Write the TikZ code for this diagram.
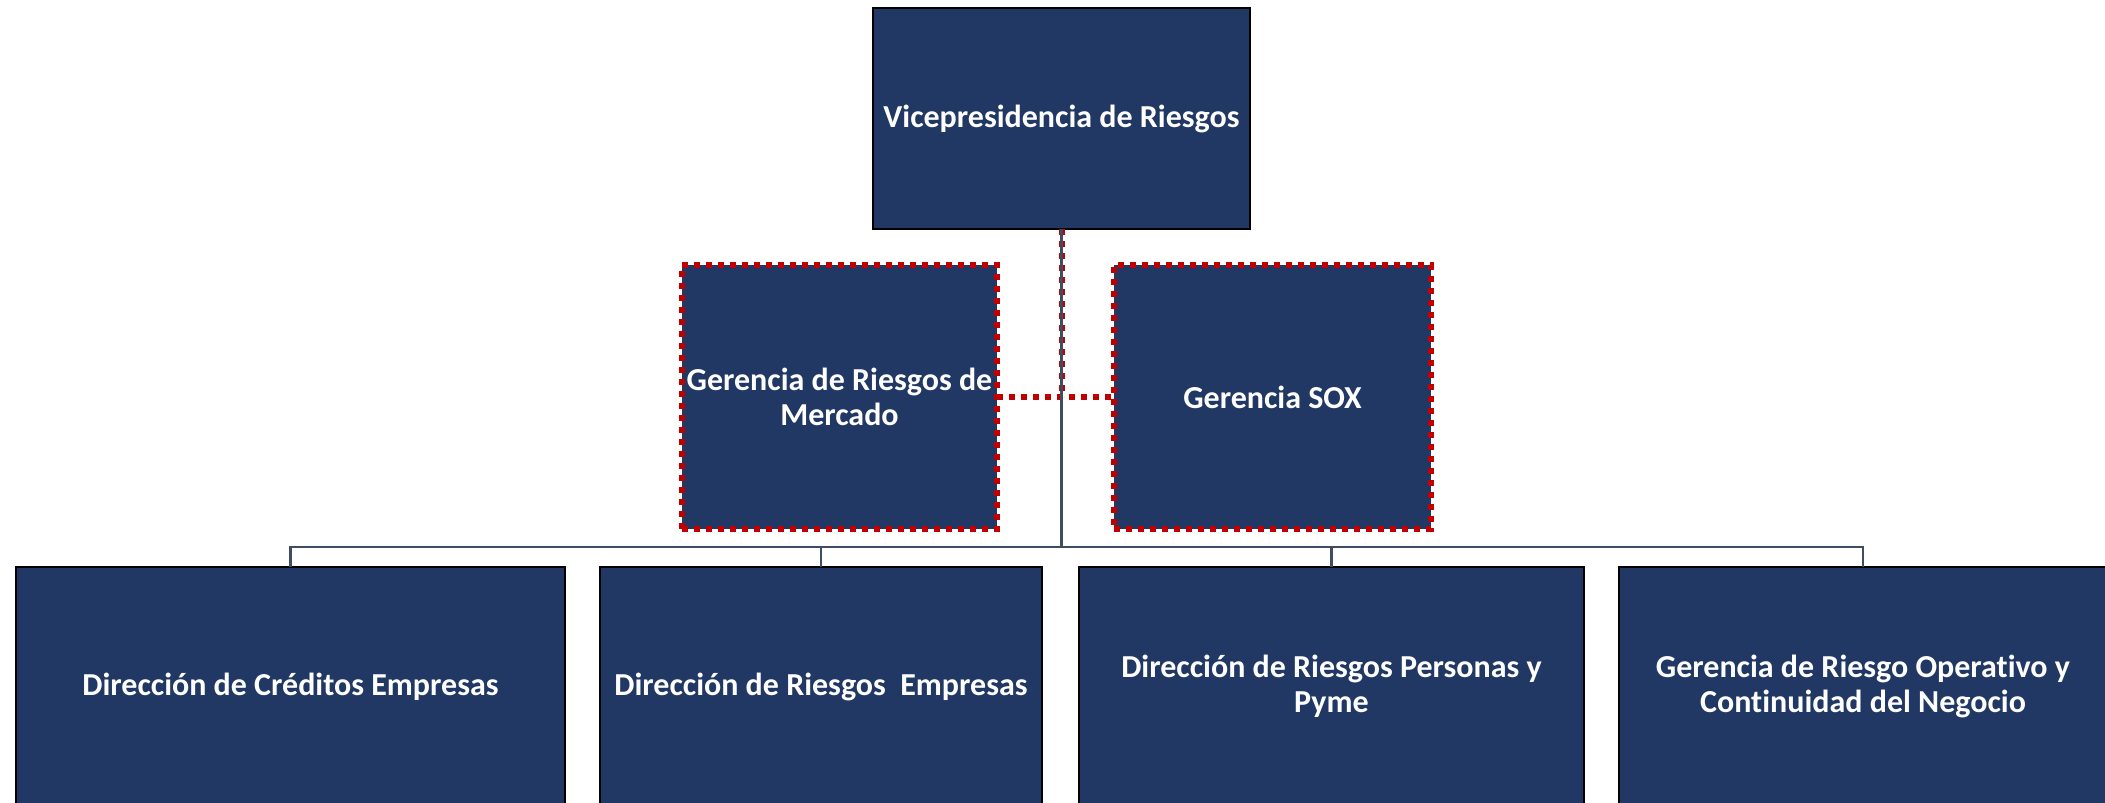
\documentclass[tikz,border=0pt]{standalone}
\usepackage{fontspec}
\setmainfont{Carlito}[Ligatures=NoCommon]
\begin{document}
\begin{tikzpicture}[x=1pt,y=-1pt,
  every node/.style={inner sep=0pt,outer sep=0pt},
  orgbox/.style={rectangle,fill=navy,draw=black,line width=2pt,text=white,
    font=\bfseries\fontsize{32}{35}\selectfont,align=center},
  dotbox/.style={rectangle,fill=navy,draw=dotred,line width=5.5pt,
    dash pattern=on 6pt off 6pt,text=white,
    font=\bfseries\fontsize{32}{35}\selectfont,align=center},
  conn/.style={draw=slate,line width=2.5pt},
  redconn/.style={draw=dotred,line width=6pt,dash pattern=on 6pt off 6pt},
  redthin/.style={draw=dotred,line width=6pt,dash pattern=on 6pt off 6pt}]
\definecolor{navy}{HTML}{213864}
\definecolor{dotred}{HTML}{C00000}
\definecolor{slate}{HTML}{3E4D63}
\useasboundingbox (0,0) rectangle (2105,803);
\clip (0,0) rectangle (2105,803);
\fill[white] (0,0) rectangle (2105,803);

\node[orgbox,minimum width=377pt,minimum height=221pt] (top) at (1061.5,118.5) {Vicepresidencia de Riesgos};
\node[dotbox,minimum width=315pt,minimum height=264pt] (merc) at (839.5,397) {Gerencia de Riesgos de\\Mercado};
\node[dotbox,minimum width=317pt,minimum height=264pt] (sox) at (1272.5,397) {Gerencia SOX};

\node[orgbox,minimum width=549pt,minimum height=239pt] (b1) at (290.5,686.5) {Dirección de Créditos Empresas};
\node[orgbox,minimum width=442pt,minimum height=239pt] (b2) at (821,686.5) {Dirección de Riesgos~~Empresas};
\node[orgbox,minimum width=505pt,minimum height=239pt] (b3) at (1331.5,686.5) {Dirección de Riesgos Personas y\\Pyme};
\node[orgbox,minimum width=488pt,minimum height=239pt] (b4) at (1863,686.5) {Gerencia de Riesgo Operativo y\\Continuidad del Negocio};

\coordinate (bus) at (1061.5,547);

\draw[redthin] (top.south) -- (top.south |- merc.east);
\draw[redconn] (merc.east) -- (sox.west);
\draw[conn] (top.south) -- (bus);
\draw[conn] (b1.north) -- (b1.north |- bus) -- (b4.north |- bus) -- (b4.north);
\draw[conn] (b2.north) -- (b2.north |- bus);
\draw[conn] (b3.north) -- (b3.north |- bus);
\end{tikzpicture}
\end{document}
